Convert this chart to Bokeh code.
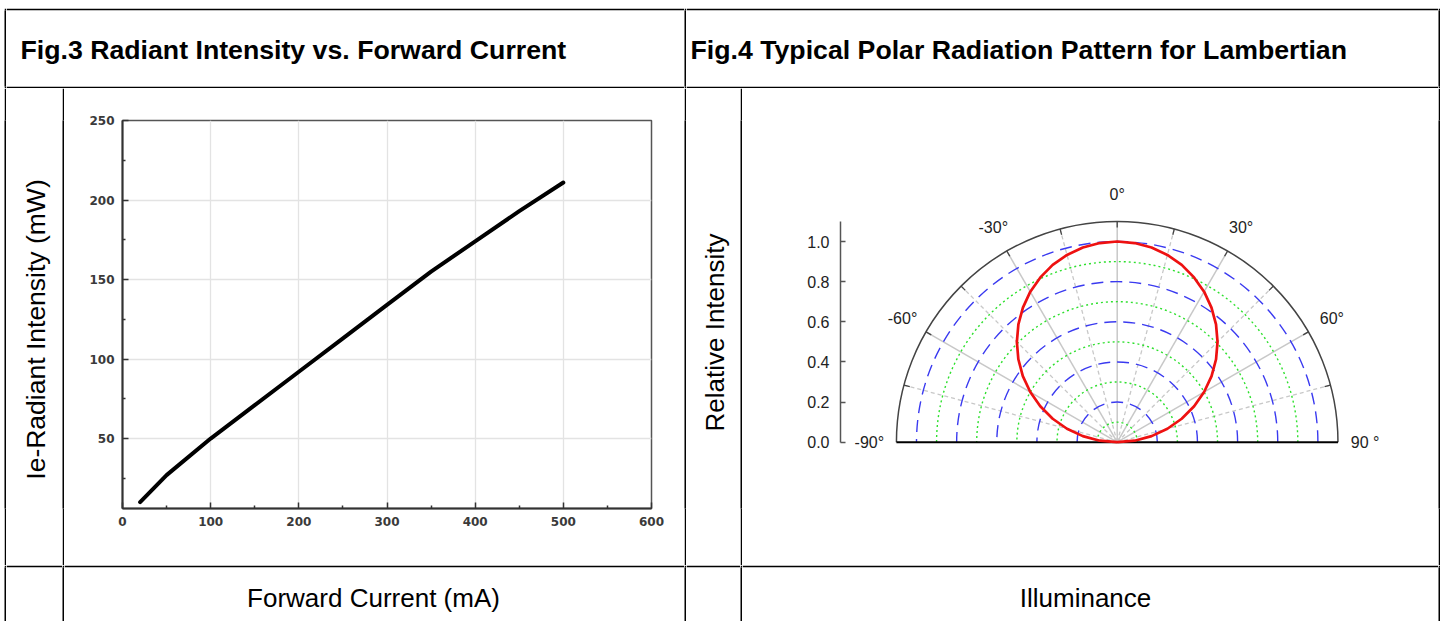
import numpy as np
from bokeh.plotting import figure
from bokeh.layouts import row, column
from bokeh.models import Range1d, FixedTicker, PrintfTickFormatter
from bokeh.core.properties import value
from bokeh.embed import file_html
from bokeh.resources import INLINE

# ---------------- data ----------------
# Fig.3 : radiant intensity vs forward current
current_mA = [20, 50, 100, 150, 200, 250, 300, 350, 400, 450, 500]
radiant_mW = [10, 27, 50, 71, 92, 113, 134, 155, 174, 193, 211]
x_major = [0, 100, 200, 300, 400, 500, 600]
x_minor = [50, 150, 250, 350, 450, 550]
y_major = [50, 100, 150, 200, 250]
y_minor = [25, 75, 125, 175, 225]

# Fig.4 : polar radiation pattern (angle in degrees, relative intensity)
angle_deg = [-90, -85, -80, -75, -70, -65, -60, -55, -50, -45, -40, -35, -30,
             -25, -20, -15, -10, -5, 0, 5, 10, 15, 20, 25, 30, 35, 40, 45, 50,
             55, 60, 65, 70, 75, 80, 85, 90]
rel_intensity = [0.000, 0.087, 0.174, 0.259, 0.342, 0.423, 0.500, 0.574, 0.643,
                 0.707, 0.766, 0.819, 0.866, 0.906, 0.940, 0.966, 0.985, 0.996,
                 1.000, 0.996, 0.985, 0.966, 0.940, 0.906, 0.866, 0.819, 0.766,
                 0.707, 0.643, 0.574, 0.500, 0.423, 0.342, 0.259, 0.174, 0.087,
                 0.000]
r_ticks = [0.0, 0.2, 0.4, 0.6, 0.8, 1.0]
r_outer = 1.1
green_radii = [0.1, 0.3, 0.5, 0.7, 0.9]
blue_radii = [0.2, 0.4, 0.6, 0.8, 1.0]
solid_spokes_deg = [-60, -30, 0, 30, 60]
dashed_spokes_deg = [-75, -45, -15, 15, 45, 75]
rim_ticks_deg = [-75, -60, -45, -30, -15, 0, 15, 30, 45, 60, 75]
angle_label_deg = [-90, -60, -30, 0, 30, 60, 90]
angle_labels = ["-90°", "-60°", "-30°", "0°", "30°", "60°", "90 °"]

# ---------------- helpers ----------------
FONT = value("Liberation Sans")


def cell(w, h, top=0, bottom=0, color="white"):
    """A table cell; its top/bottom borders (if any) are drawn black."""
    p = figure(width=w, height=h, x_range=Range1d(0, w), y_range=Range1d(0, h - top - bottom),
               x_axis_type=None, y_axis_type=None, toolbar_location=None,
               output_backend="svg", min_border_left=0, min_border_right=0,
               min_border_top=top, min_border_bottom=bottom,
               background_fill_color=color,
               border_fill_color="black" if (top or bottom) else color,
               outline_line_color=None)
    return p


def sep(w, h):
    return cell(w, h, color="black")


def add_text(p, x, y, txt, size, bold=False, angle=0.0, align="left"):
    p.text(x=[x], y=[y], text=[txt], angle=angle, text_font=FONT,
           text_font_size=size, text_font_style="bold" if bold else "normal",
           text_color="black", text_align=align, text_baseline="middle")
    return p


# cell geometry
PAD_L, PAD_T = 4, 8
WL_LAB, WL_CH, WR_LAB, WR_CH = 56, 620, 54, 696
H_T, H_C, H_B = 80, 477, 56
TOTAL_W = PAD_L + 2 + WL_LAB + 2 + WL_CH + 2 + WR_LAB + 2 + WR_CH + 2
C_TOP, C_BOT = 32, 57   # frame offsets inside the chart row

# ---------------- Fig.3 chart ----------------
c1 = figure(width=WL_CH, height=H_C, x_range=Range1d(0, 600), y_range=Range1d(6, 250),
            min_border_left=58, min_border_right=33, min_border_top=C_TOP,
            min_border_bottom=C_BOT,
            toolbar_location=None, output_backend="svg",
            outline_line_color="#555555", outline_line_width=1.5,
            background_fill_color="white", border_fill_color="white")
c1.xaxis.ticker = FixedTicker(ticks=x_major, minor_ticks=x_minor)
c1.yaxis.ticker = FixedTicker(ticks=y_major, minor_ticks=y_minor)
for ax in (c1.xaxis[0], c1.yaxis[0]):
    ax.axis_line_color = "#333333"
    ax.axis_line_width = 2
    ax.major_tick_line_color = "#333333"
    ax.major_tick_line_width = 1.5
    ax.minor_tick_line_color = "#333333"
    ax.minor_tick_line_width = 1.5
    ax.major_tick_in = 6
    ax.major_tick_out = 0
    ax.minor_tick_in = 3
    ax.minor_tick_out = 0
    ax.major_label_text_font = "DejaVu Sans"
    ax.major_label_text_font_size = "12px"
    ax.major_label_text_font_style = "bold"
    ax.major_label_text_color = "#3a3a3a"
    ax.major_label_standoff = 8
c1.grid.grid_line_color = "#e3e3e3"
c1.grid.grid_line_width = 1.3
c1.line(current_mA, radiant_mW, line_width=4, line_color="black",
        line_cap="round", line_join="round")

# ---------------- Fig.4 polar chart ----------------
c2 = figure(width=WR_CH, height=H_C, x_range=Range1d(-1.3787, 1.6009),
            y_range=Range1d(-0.3303, 1.6029), x_axis_type=None,
            min_border_left=98, min_border_right=0, min_border_top=C_TOP,
            min_border_bottom=C_BOT,
            toolbar_location=None, output_backend="svg", outline_line_color=None,
            background_fill_color="white", border_fill_color="white")
c2.ygrid.visible = False
ya = c2.yaxis[0]
ya.ticker = FixedTicker(ticks=r_ticks, minor_ticks=[])
ya.formatter = PrintfTickFormatter(format="%.1f")
ya.bounds = (0, r_outer)
ya.axis_line_color = "#555555"
ya.axis_line_width = 1.5
ya.major_tick_line_color = "#555555"
ya.major_tick_line_width = 1.5
ya.major_tick_in = 5
ya.major_tick_out = 0
ya.major_label_text_font = "Liberation Sans"
ya.major_label_text_font_size = "16px"
ya.major_label_text_color = "#222222"
ya.major_label_standoff = 11

th = np.radians(solid_spokes_deg)
c2.segment(x0=np.zeros(len(th)), y0=np.zeros(len(th)),
           x1=r_outer * np.sin(th), y1=r_outer * np.cos(th),
           line_color="#c8c8c8", line_width=1.5)
th = np.radians(dashed_spokes_deg)
c2.segment(x0=np.zeros(len(th)), y0=np.zeros(len(th)),
           x1=r_outer * np.sin(th), y1=r_outer * np.cos(th),
           line_color="#c8c8c8", line_width=1.3, line_dash="4 3")

c2.arc(x=np.zeros(len(green_radii)), y=np.zeros(len(green_radii)), radius=green_radii,
       start_angle=0, end_angle=np.pi, line_color="#2ee02e", line_width=1.4,
       line_dash="2 3")
c2.arc(x=np.zeros(len(blue_radii)), y=np.zeros(len(blue_radii)), radius=blue_radii,
       start_angle=0, end_angle=np.pi, line_color="#3a3af0", line_width=1.4,
       line_dash="12 7")

c2.arc(x=[0], y=[0], radius=[r_outer], start_angle=0, end_angle=np.pi,
       line_color="#444444", line_width=1.5)
th = np.radians(rim_ticks_deg)
c2.segment(x0=(r_outer - 0.03) * np.sin(th), y0=(r_outer - 0.03) * np.cos(th),
           x1=r_outer * np.sin(th), y1=r_outer * np.cos(th),
           line_color="#444444", line_width=1.3)
c2.segment(x0=[-r_outer], y0=[0], x1=[r_outer], y1=[0], line_color="black", line_width=2)

th = np.radians(angle_deg)
ri = np.array(rel_intensity)
c2.line(ri * np.sin(th), ri * np.cos(th), line_color="#ee1111", line_width=2.7,
        line_join="round")

th = np.radians(angle_label_deg)
c2.text(x=1.235 * np.sin(th), y=1.235 * np.cos(th), text=angle_labels,
        text_font=FONT, text_font_size="16px", text_color="#222222",
        text_align="center", text_baseline="middle")

# ---------------- table cells ----------------
W_TL = WL_LAB + 2 + WL_CH
W_TR = WR_LAB + 2 + WR_CH
title_l = add_text(cell(W_TL, H_T, top=2, bottom=2), 14, 37,
                   "Fig.3 Radiant Intensity vs. Forward Current", "26.7px", bold=True)
title_r = add_text(cell(W_TR, H_T, top=2, bottom=2), 4, 37,
                   "Fig.4 Typical Polar Radiation Pattern for Lambertian", "26.7px", bold=True)

ylab_l = cell(WL_LAB, H_C, top=0, bottom=0)
ylab_l.min_border_top, ylab_l.min_border_bottom = C_TOP, C_BOT
ylab_l.border_fill_color = "white"
ylab_l.y_range = Range1d(0, H_C - C_TOP - C_BOT)
add_text(ylab_l, 29, 179, "Ie-Radiant Intensity (mW)", "26.5px", angle=np.pi / 2,
         align="center")

ylab_r = cell(WR_LAB, H_C, top=0, bottom=0)
ylab_r.min_border_top, ylab_r.min_border_bottom = C_TOP, C_BOT
ylab_r.border_fill_color = "white"
ylab_r.y_range = Range1d(0, H_C - C_TOP - C_BOT)
add_text(ylab_r, 28, 176, "Relative Intensity", "26px", angle=np.pi / 2, align="center")

xlab_l = add_text(cell(WL_CH, H_B, top=2), 309, 24, "Forward Current (mA)", "26px",
                  align="center")
xlab_r = add_text(cell(WR_CH, H_B, top=2), 343, 24, "Illuminance", "26px", align="center")

r0 = cell(TOTAL_W, PAD_T)
r1 = row(cell(PAD_L, H_T), sep(2, H_T), title_l, sep(2, H_T), title_r, sep(2, H_T))
r2 = row(cell(PAD_L, H_C), sep(2, H_C), ylab_l, sep(2, H_C), c1, sep(2, H_C), ylab_r,
         sep(2, H_C), c2, sep(2, H_C))
r3 = row(cell(PAD_L, H_B), sep(2, H_B), cell(WL_LAB, H_B, top=2), sep(2, H_B), xlab_l,
         sep(2, H_B), cell(WR_LAB, H_B, top=2), sep(2, H_B), xlab_r, sep(2, H_B))
page = column(r0, r1, r2, r3)

open("out.html", "w").write(file_html(page, INLINE))
